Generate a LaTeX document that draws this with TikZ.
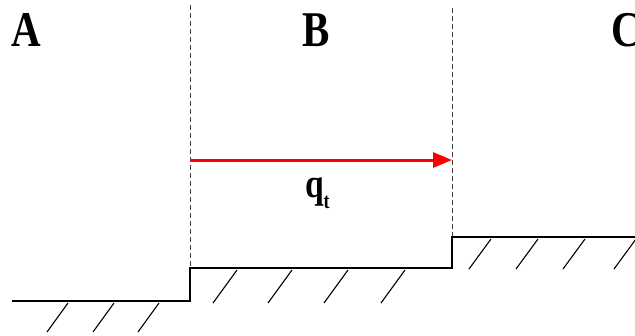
\documentclass[tikz,border=0pt]{standalone}
\usepackage{fontspec}
\setmainfont{Liberation Serif}
\usetikzlibrary{arrows.meta}

\newcommand{\squeezed}[1]{\scalebox{0.82}[1]{#1}}

\begin{document}
\begin{tikzpicture}[
      x=1pt, y=-1pt,
      every node/.style={inner sep=0pt, outer sep=0pt},
      zone/.style={font=\fontsize{50}{50}\selectfont\bfseries, anchor=base west},
      rate/.style={font=\fontsize{41}{41}\selectfont\bfseries, anchor=base west},
      ground/.style={line width=2.5pt, line join=miter},
      hatch/.style={line width=1.1pt},
      border/.style={dash pattern=on 5pt off 3pt, line width=0.8pt, draw=black!75},
      flow/.style={-{Triangle[length=19pt,width=15pt]}, line width=3pt, draw=red}
    ]
    \useasboundingbox (0,0) rectangle (635,335);
    \clip (0,0) rectangle (635,335);

    % step corners of the bed
    \coordinate (startA) at (12,301);
    \coordinate (stepAB) at (190,301);
    \coordinate (topAB) at (190,268);
    \coordinate (stepBC) at (452,268);
    \coordinate (topBC) at (452,237);
    \coordinate (endC) at (640,237);
    \coordinate (headAB) at (190,5);
    \coordinate (headBC) at (452,8);

    % zone borders
    \draw[border] (headAB) -- (topAB);
    \draw[border] (headBC) -- (topBC);

    % bed with hatching
    \draw[ground] (startA) -- (stepAB) -- (topAB) -- (stepBC) -- (topBC) -- (endC);
    \foreach \x in {68,114,159} \draw[hatch] (\x,303) -- ++(-21,29);
    \foreach \x in {237,292,348,405} \draw[hatch] (\x,270) -- ++(-24,33);
    \foreach \x in {491,538,585,636} \draw[hatch] (\x,239) -- ++(-22,30);

    % zone labels
    \node[zone] (zoneA) at (12,46) {\squeezed{A}};
    \node[zone] (zoneB) at (302,46) {\squeezed{B}};
    \node[zone] (zoneC) at (611,46) {\squeezed{C}};

    % transport arrow
    \coordinate (flowstart) at (190,160);
    \coordinate (flowend) at (452,160);
    \draw[flow] (flowstart) -- (flowend);
    \node[rate] (qt) at (305,197) {\squeezed{q\raisebox{-11pt}{\fontsize{22}{22}\selectfont t}}};
  \end{tikzpicture}
\end{document}
